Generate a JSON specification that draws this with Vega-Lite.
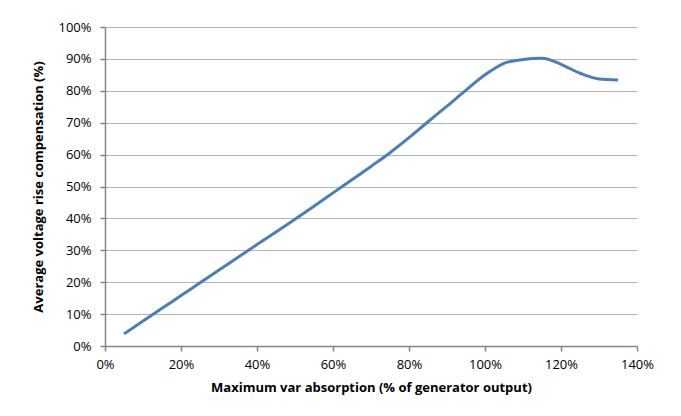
{
  "$schema": "https://vega.github.io/schema/vega-lite/v6.json",
  "autosize": {"type": "none"},
  "width": 532,
  "height": 319,
  "padding": {"left": 105, "top": 27, "right": 44, "bottom": 70},
  "background": "white",
  "config": {
    "view": {"stroke": null},
    "font": "Open Sans",
    "axis": {
      "labelFont": "Open Sans",
      "titleFont": "Open Sans",
      "labelFontSize": 13,
      "labelColor": "#000000",
      "titleColor": "#000000",
      "titleFontSize": 13,
      "titleFontWeight": "bold",
      "domainColor": "#868686",
      "domainWidth": 1.5,
      "tickColor": "#868686",
      "tickWidth": 1.5,
      "gridColor": "#B3B3B3",
      "gridWidth": 1.2,
      "tickSize": 5,
      "labelFlush": false
    }
  },
  "data": {
    "values": [
      {"x": 0.05, "y": 0.038},
      {"x": 0.10, "y": 0.078},
      {"x": 0.15, "y": 0.118},
      {"x": 0.20, "y": 0.158},
      {"x": 0.25, "y": 0.198},
      {"x": 0.30, "y": 0.238},
      {"x": 0.35, "y": 0.278},
      {"x": 0.40, "y": 0.318},
      {"x": 0.45, "y": 0.357},
      {"x": 0.50, "y": 0.397},
      {"x": 0.55, "y": 0.438},
      {"x": 0.60, "y": 0.480},
      {"x": 0.65, "y": 0.521},
      {"x": 0.70, "y": 0.563},
      {"x": 0.75, "y": 0.606},
      {"x": 0.80, "y": 0.653},
      {"x": 0.85, "y": 0.703},
      {"x": 0.90, "y": 0.752},
      {"x": 0.95, "y": 0.802},
      {"x": 1.00, "y": 0.850},
      {"x": 1.05, "y": 0.886},
      {"x": 1.10, "y": 0.898},
      {"x": 1.15, "y": 0.902},
      {"x": 1.20, "y": 0.883},
      {"x": 1.25, "y": 0.855},
      {"x": 1.30, "y": 0.837},
      {"x": 1.35, "y": 0.834}
    ]
  },
  "mark": {"type": "line", "interpolate": "monotone", "color": "#4A7EBB", "strokeWidth": 3},
  "encoding": {
    "x": {
      "field": "x",
      "type": "quantitative",
      "scale": {"domain": [0, 1.4], "nice": false},
      "axis": {
        "format": ".0%",
        "values": [0, 0.2, 0.4, 0.6, 0.8, 1.0, 1.2, 1.4],
        "grid": false,
        "labelPadding": 7,
        "title": "Maximum var absorption (% of generator output)",
        "titlePadding": 10
      }
    },
    "y": {
      "field": "y",
      "type": "quantitative",
      "scale": {"domain": [0, 1], "nice": false},
      "axis": {
        "format": ".0%",
        "values": [0, 0.1, 0.2, 0.3, 0.4, 0.5, 0.6, 0.7, 0.8, 0.9, 1.0],
        "grid": true,
        "labelPadding": 9,
        "title": "Average voltage rise compensation (%)",
        "titlePadding": 12
      }
    }
  }
}
